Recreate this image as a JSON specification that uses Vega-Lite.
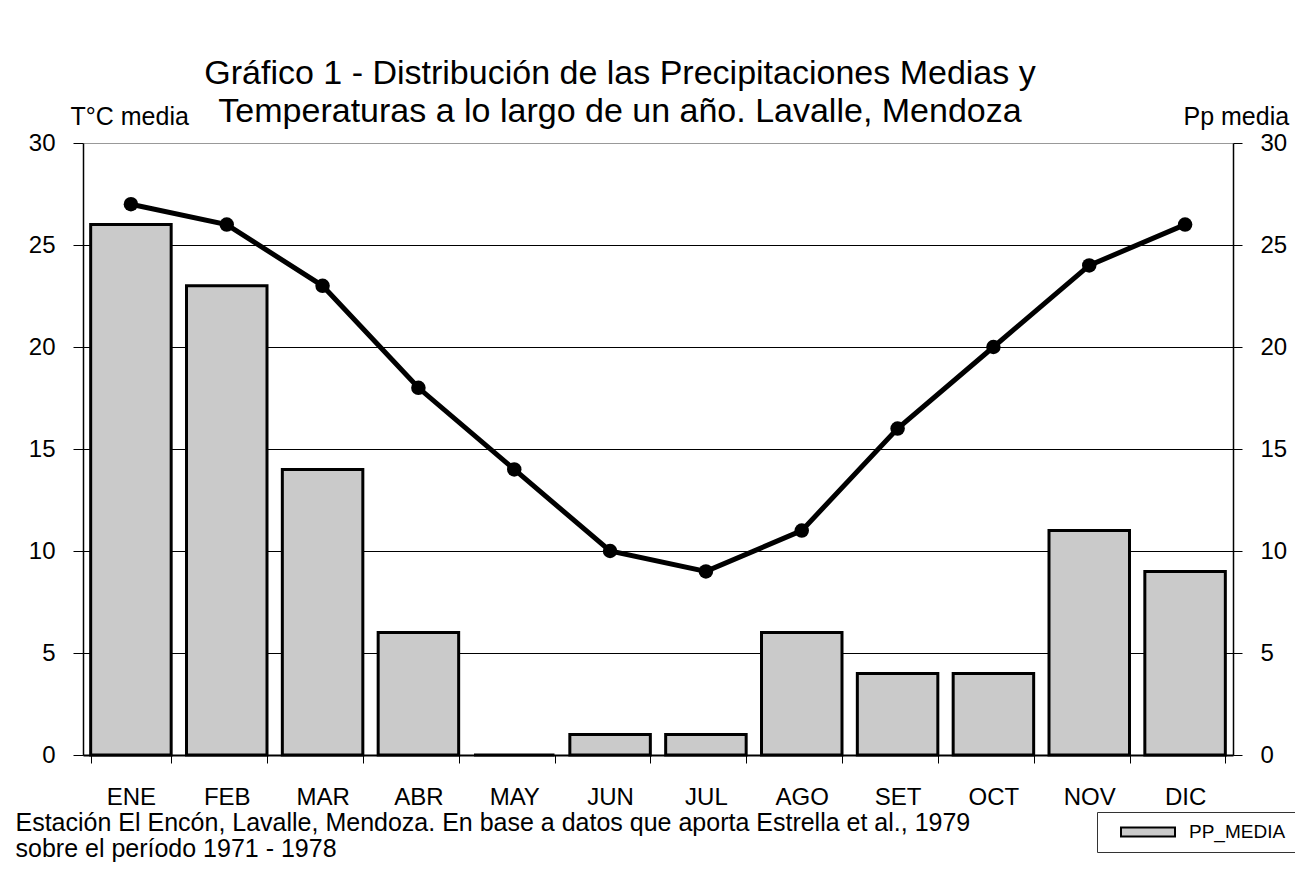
{
  "$schema": "https://vega.github.io/schema/vega-lite/v6.json",
  "width": 1150,
  "height": 612,
  "autosize": {"type": "none"},
  "padding": {"left": 83, "top": 143, "right": 62, "bottom": 116},
  "background": "white",
  "config": {"font": "Liberation Sans", "view": {"stroke": null}},
  "title": {
    "text": ["Gráfico 1 - Distribución de las Precipitaciones Medias y", "Temperaturas a lo largo de un año. Lavalle, Mendoza"],
    "fontSize": 34,
    "fontWeight": "normal",
    "color": "black",
    "anchor": "middle",
    "frame": "group",
    "dx": -38,
    "dy": 45,
    "offset": 20,
    "lineHeight": 38
  },
  "data": {
    "values": [
      {"mes": "ENE", "pp": 26, "t": 27},
      {"mes": "FEB", "pp": 23, "t": 26},
      {"mes": "MAR", "pp": 14, "t": 23},
      {"mes": "ABR", "pp": 6, "t": 18},
      {"mes": "MAY", "pp": 0, "t": 14},
      {"mes": "JUN", "pp": 1, "t": 10},
      {"mes": "JUL", "pp": 1, "t": 9},
      {"mes": "AGO", "pp": 6, "t": 11},
      {"mes": "SET", "pp": 4, "t": 16},
      {"mes": "OCT", "pp": 4, "t": 20},
      {"mes": "NOV", "pp": 11, "t": 24},
      {"mes": "DIC", "pp": 9, "t": 26}
    ]
  },
  "encoding": {
    "x": {
      "field": "mes",
      "type": "nominal",
      "sort": null,
      "scale": {"paddingInner": 0.16, "paddingOuter": 0.08},
      "axis": {
        "labelAngle": 0,
        "labelFontSize": 24,
        "labelColor": "black",
        "labelPadding": 22,
        "tickBand": "extent",
        "tickSize": 8,
        "tickColor": "black",
        "domainColor": "black",
        "domainWidth": 2,
        "title": ["Estación El Encón, Lavalle, Mendoza. En base a datos que aporta Estrella et al., 1979", "sobre el período 1971 - 1978"],
        "titleFontSize": 25,
        "titleFontWeight": "normal",
        "titleColor": "black",
        "titleAnchor": "start",
        "titleAlign": "left",
        "titleBaseline": "alphabetic",
        "titleX": -68,
        "titleY": 75,
        "titleLineHeight": 26
      }
    }
  },
  "layer": [
    {
      "mark": {"type": "bar", "stroke": "black", "strokeWidth": 3},
      "encoding": {
        "y": {
          "field": "pp",
          "type": "quantitative",
          "scale": {"domain": [0, 30]},
          "axis": {
            "orient": "right",
            "values": [0, 5, 10, 15, 20, 25, 30],
            "grid": false,
            "labelFontSize": 24,
            "labelColor": "black",
            "labelPadding": 18,
            "tickSize": 9,
            "tickColor": "black",
            "domainColor": "black",
            "domainWidth": 1.5,
            "title": "Pp media",
            "titleAngle": 0,
            "titleAlign": "left",
            "titleBaseline": "alphabetic",
            "titleX": -50,
            "titleY": -19,
            "titleFontSize": 25,
            "titleFontWeight": "normal",
            "titleColor": "black"
          }
        },
        "color": {
          "datum": "PP_MEDIA",
          "scale": {"range": ["#cacaca"]},
          "legend": {
            "orient": "none",
            "legendX": 1014,
            "legendY": 669,
            "title": null,
            "padding": 10,
            "strokeColor": "#333333",
            "fillColor": "white",
            "symbolType": "M-3,-0.5H3V0.5H-3Z",
            "symbolSize": 324,
            "symbolStrokeColor": "black",
            "symbolStrokeWidth": 2,
            "symbolOffset": 31,
            "labelOffset": 31,
            "labelFontSize": 19,
            "labelColor": "black"
          }
        }
      }
    },
    {
      "mark": {"type": "line", "color": "black", "strokeWidth": 5, "point": {"filled": true, "size": 210, "color": "black"}},
      "encoding": {
        "y": {
          "field": "t",
          "type": "quantitative",
          "scale": {"domain": [0, 30]},
          "axis": {
            "orient": "left",
            "values": [0, 5, 10, 15, 20, 25, 30],
            "grid": true,
            "gridColor": {"condition": {"test": "datum.value >= 30", "value": "#999999"}, "value": "black"},
            "gridWidth": 1,
            "labelFontSize": 24,
            "labelColor": "black",
            "labelPadding": 18,
            "tickSize": 10,
            "tickColor": "black",
            "domainColor": "black",
            "domainWidth": 1.5,
            "title": "T°C media",
            "titleAngle": 0,
            "titleAlign": "left",
            "titleBaseline": "alphabetic",
            "titleX": -13,
            "titleY": -19,
            "titleFontSize": 25,
            "titleFontWeight": "normal",
            "titleColor": "black"
          }
        }
      }
    }
  ],
  "resolve": {"scale": {"y": "independent"}}
}
